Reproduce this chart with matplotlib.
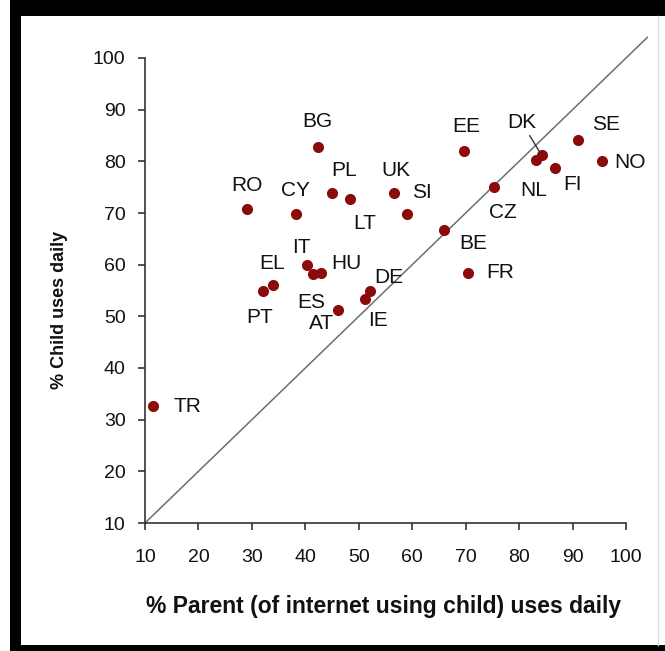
import matplotlib
matplotlib.use("Agg")
import matplotlib.pyplot as plt
from matplotlib.patches import Rectangle
from matplotlib.lines import Line2D

plt.rcParams['font.family'] = ['Liberation Sans', 'DejaVu Sans']

# Country codes and daily-use percentages
countries = ["TR", "RO", "CY", "BG", "PL", "LT", "UK", "SI", "EE", "DK",
             "NL", "SE", "NO", "FI", "CZ", "BE", "FR", "IT", "ES", "HU",
             "EL", "PT", "AT", "DE", "IE"]
parent_daily = [11.5, 29.1, 38.2, 42.3, 44.9, 48.4, 56.6, 59.1, 69.7, 84.2,
                83.2, 91.1, 95.5, 86.8, 75.3, 66.0, 70.4, 40.4, 41.5, 42.9,
                34.0, 32.1, 46.2, 52.1, 51.2]
child_daily = [32.6, 70.7, 69.8, 82.7, 73.8, 72.7, 73.8, 69.8, 82.0, 81.2,
               80.2, 84.2, 80.0, 78.8, 75.0, 66.8, 58.4, 59.9, 58.2, 58.3,
               56.0, 54.9, 51.3, 54.9, 53.3]

x_ticks = [10, 20, 30, 40, 50, 60, 70, 80, 90, 100]
y_ticks = [10, 20, 30, 40, 50, 60, 70, 80, 90, 100]

# Label placement (pixel offsets from each point)
label_offsets = {
    "TR": (34, 0), "RO": (0, 24), "CY": (0, 24), "BG": (0, 26),
    "PL": (13, 23), "LT": (14, -24), "UK": (2, 23), "SI": (15, 22),
    "EE": (2, 24), "DK": (-20, 33), "NL": (-3, -30), "SE": (28, 15),
    "NO": (28, -1), "FI": (17, -17), "CZ": (9, -25), "BE": (29, -14),
    "FR": (32, 0), "IT": (-6, 18), "ES": (-2, -29), "HU": (26, 10),
    "EL": (-1, 22), "PT": (-3, -26), "AT": (-17, -14), "DE": (19, 14),
    "IE": (13, -21),
}

W, H = 665, 651
fig = plt.figure(figsize=(W / 100, H / 100), dpi=100)
fig.patch.set_facecolor("white")

ax = fig.add_axes([145 / W, 1 - 523 / H, (626 - 145) / W, (523 - 58) / H])
ax.set_xlim(10, 100)
ax.set_ylim(10, 100)

# Equality line (parent = child)
ax.plot([10, 104], [10, 104], color="#6e6e6e", lw=1.1, clip_on=False, zorder=1)

ax.scatter(parent_daily, child_daily, s=64, color="#8b0a0a", zorder=3,
           linewidths=0)

for name, px, cy in zip(countries, parent_daily, child_daily):
    dx, dy = label_offsets[name]
    if name == "DK":
        ax.annotate(name, xy=(px, cy), xytext=(dx, dy), textcoords="offset pixels",
                    ha="center", va="center", fontsize=15, color="#111111",
                    arrowprops=dict(arrowstyle="-", color="#333333", lw=1.0,
                                    shrinkA=1, shrinkB=2))
    else:
        ax.annotate(name, xy=(px, cy), xytext=(dx, dy), textcoords="offset pixels",
                    ha="center", va="center", fontsize=15, color="#111111")

ax.set_xticks(x_ticks)
ax.set_yticks(y_ticks)
for side in ("top", "right"):
    ax.spines[side].set_visible(False)
for side in ("left", "bottom"):
    ax.spines[side].set_color("#333333")
    ax.spines[side].set_linewidth(1.2)
ax.tick_params(axis="both", direction="out", length=5, width=1.2,
               color="#333333", labelsize=14, labelcolor="#111111")
ax.tick_params(axis="x", pad=14)
ax.tick_params(axis="y", pad=9)

fig.text(384 / W, 1 - 606 / H, "% Parent (of internet using child) uses daily",
         ha="center", va="center", fontsize=16.5, fontweight="bold",
         color="#111111")
fig.text(60 / W, 1 - 310 / H, "% Child uses daily", ha="center", va="center",
         rotation=90, fontsize=13, fontweight="bold", color="#111111")

# Frame around the figure
fig.patches.append(Rectangle((10 / W, 1 - 16 / H), 1, 16 / H, transform=fig.transFigure,
                             facecolor="black", edgecolor="none"))
fig.patches.append(Rectangle((10 / W, 0), 11 / W, 1, transform=fig.transFigure,
                             facecolor="black", edgecolor="none"))
fig.patches.append(Rectangle((10 / W, 0), 1, 6 / H, transform=fig.transFigure,
                             facecolor="black", edgecolor="none"))
fig.lines.append(Line2D([658 / W, 658 / W], [6 / H, 1 - 16 / H], transform=fig.transFigure,
                        color="#dddddd", lw=1))

fig.savefig("out.png", dpi=100)
